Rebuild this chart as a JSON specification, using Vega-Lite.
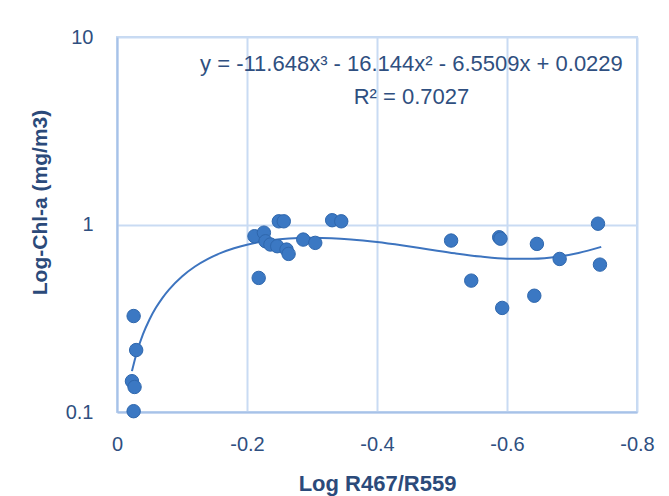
{
  "$schema": "https://vega.github.io/schema/vega-lite/v6.json",
  "width": 520,
  "height": 375,
  "autosize": {"type": "none"},
  "padding": {"left": 117, "top": 37, "right": 32, "bottom": 84},
  "background": "white",
  "config": {
    "view": {"stroke": "#c5d8f1", "strokeWidth": 2},
    "font": "Liberation Sans"
  },
  "datasets": {
    "pts": [
      {"x": -0.0256, "y": 0.325}, {"x": -0.0295, "y": 0.214}, {"x": -0.023, "y": 0.146},
      {"x": -0.027, "y": 0.136}, {"x": -0.0256, "y": 0.101},
      {"x": -0.2115, "y": 0.866}, {"x": -0.226, "y": 0.905}, {"x": -0.2285, "y": 0.814},
      {"x": -0.236, "y": 0.782}, {"x": -0.2465, "y": 0.766}, {"x": -0.2608, "y": 0.735},
      {"x": -0.264, "y": 0.697}, {"x": -0.218, "y": 0.519}, {"x": -0.249, "y": 1.04},
      {"x": -0.2566, "y": 1.04}, {"x": -0.2865, "y": 0.831}, {"x": -0.305, "y": 0.798},
      {"x": -0.331, "y": 1.054}, {"x": -0.345, "y": 1.04},
      {"x": -0.514, "y": 0.821}, {"x": -0.545, "y": 0.502}, {"x": -0.588, "y": 0.855},
      {"x": -0.59, "y": 0.84}, {"x": -0.5926, "y": 0.359}, {"x": -0.646, "y": 0.788},
      {"x": -0.642, "y": 0.417}, {"x": -0.681, "y": 0.655}, {"x": -0.74, "y": 1.01},
      {"x": -0.743, "y": 0.611}
    ],
    "fit": [
      {"x": -0.023, "y": 0.1652}, {"x": -0.03, "y": 0.2052}, {"x": -0.04, "y": 0.2599},
      {"x": -0.05, "y": 0.3116}, {"x": -0.06, "y": 0.3604}, {"x": -0.07, "y": 0.4064},
      {"x": -0.08, "y": 0.4496}, {"x": -0.1, "y": 0.5282}, {"x": -0.12, "y": 0.5967},
      {"x": -0.14, "y": 0.6556}, {"x": -0.16, "y": 0.7055}, {"x": -0.18, "y": 0.7469},
      {"x": -0.2, "y": 0.7805}, {"x": -0.22, "y": 0.8068}, {"x": -0.25, "y": 0.8336},
      {"x": -0.28, "y": 0.8472}, {"x": -0.3, "y": 0.8497}, {"x": -0.33, "y": 0.8452},
      {"x": -0.36, "y": 0.8324}, {"x": -0.4, "y": 0.8057}, {"x": -0.44, "y": 0.772},
      {"x": -0.48, "y": 0.7359}, {"x": -0.52, "y": 0.7018}, {"x": -0.56, "y": 0.6742},
      {"x": -0.6, "y": 0.6576}, {"x": -0.64, "y": 0.6564}, {"x": -0.68, "y": 0.675},
      {"x": -0.71, "y": 0.7048}, {"x": -0.745, "y": 0.7594}
    ],
    "labels": [
      {"x": -0.453, "y": 7.17, "t": "y = -11.648x³ - 16.144x² - 6.5509x + 0.0229"},
      {"x": -0.453, "y": 4.8, "t": "R² = 0.7027"}
    ]
  },
  "layer": [
    {
      "data": {"name": "fit"},
      "mark": {"type": "line", "color": "#3d74bf", "strokeWidth": 2, "interpolate": "monotone"},
      "encoding": {
        "x": {
          "field": "x", "type": "quantitative",
          "scale": {"domain": [-0.8, 0], "reverse": true, "nice": false, "zero": false},
          "axis": {
            "values": [0, -0.2, -0.4, -0.6, -0.8],
            "labelExpr": "'' + datum.value",
            "labelFlush": false,
            "title": "Log R467/R559",
            "titleFont": "Liberation Sans", "titleFontSize": 22, "titleFontWeight": "bold",
            "titleColor": "#2b4a7a", "titleBaseline": "middle", "titleY": 71,
            "labelFontSize": 20, "labelColor": "#2f4f80", "labelPadding": 22,
            "ticks": false, "domainColor": "#a7c2e8", "domainWidth": 2,
            "gridColor": "#c9dbf3", "gridWidth": 2
          }
        },
        "y": {
          "field": "y", "type": "quantitative",
          "scale": {"type": "log", "domain": [0.1, 10], "nice": false},
          "axis": {
            "values": [0.1, 1, 10],
            "labelExpr": "datum.value >= 1 ? format(datum.value, 'd') : '0.1'",
            "labelFlush": false,
            "title": "Log-Chl-a (mg/m3)",
            "titleFont": "Liberation Sans", "titleFontSize": 21, "titleFontWeight": "bold",
            "titleColor": "#2b4a7a", "titleX": -77, "titleY": 165,
            "titleBaseline": "middle", "titleAngle": -90, "titleAnchor": null,
            "labelFontSize": 20, "labelColor": "#2f4f80", "labelPadding": 24,
            "ticks": false, "domainColor": "#a7c2e8", "domainWidth": 2,
            "gridColor": "#c9dbf3", "gridWidth": 2
          }
        }
      }
    },
    {
      "data": {"name": "pts"},
      "mark": {"type": "circle", "size": 180, "color": "#3b78c3", "opacity": 1, "stroke": "#2f67ad", "strokeWidth": 1},
      "encoding": {
        "x": {"field": "x", "type": "quantitative"},
        "y": {"field": "y", "type": "quantitative"}
      }
    },
    {
      "data": {"name": "labels"},
      "mark": {"type": "text", "fontSize": 22, "color": "#2f4f80", "align": "center", "baseline": "middle"},
      "encoding": {
        "x": {"field": "x", "type": "quantitative"},
        "y": {"field": "y", "type": "quantitative"},
        "text": {"field": "t"}
      }
    }
  ]
}
